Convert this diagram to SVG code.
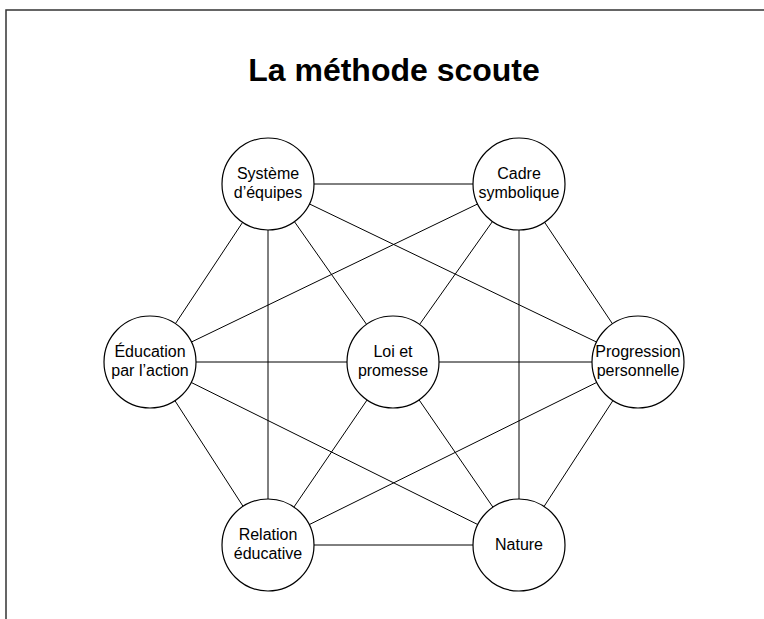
<svg xmlns="http://www.w3.org/2000/svg" width="764" height="619" viewBox="0 0 764 619">
<style>
.frame{fill:none;stroke:#333;stroke-width:1.5}
.edge{stroke:#000;stroke-width:1;fill:none}
.node circle{fill:#fff;stroke:#000;stroke-width:1.2}
.node text{font-family:"Liberation Sans",Arial,sans-serif;font-size:16px;text-anchor:middle;fill:#000}
.title{font-family:"Liberation Sans",Arial,sans-serif;font-size:32px;font-weight:bold;text-anchor:middle;fill:#000}
</style>
<rect width="764" height="619" fill="#fff"/>
<rect class="frame" x="6" y="10" width="800" height="700"/>
<text class="title" x="394" y="81">La méthode scoute</text>
<g id="connectors" class="edge">
<line x1="268" y1="184" x2="519" y2="184"/>
<line x1="268" y1="184" x2="150" y2="362"/>
<line x1="268" y1="184" x2="268" y2="545"/>
<line x1="268" y1="184" x2="393" y2="362"/>
<line x1="268" y1="184" x2="638" y2="362"/>
<line x1="519" y1="184" x2="150" y2="362"/>
<line x1="519" y1="184" x2="393" y2="362"/>
<line x1="519" y1="184" x2="519" y2="545"/>
<line x1="519" y1="184" x2="638" y2="362"/>
<line x1="150" y1="362" x2="393" y2="362"/>
<line x1="393" y1="362" x2="638" y2="362"/>
<line x1="150" y1="362" x2="519" y2="545"/>
<line x1="150" y1="362" x2="268" y2="545"/>
<line x1="393" y1="362" x2="268" y2="545"/>
<line x1="393" y1="362" x2="519" y2="545"/>
<line x1="638" y1="362" x2="268" y2="545"/>
<line x1="638" y1="362" x2="519" y2="545"/>
<line x1="268" y1="545" x2="519" y2="545"/>
</g>
<g id="systeme" class="node"><circle cx="268" cy="184" r="46"/><text x="268" y="179">Système</text><text x="268" y="198">d’équipes</text></g>
<g id="cadre" class="node"><circle cx="519" cy="184" r="46"/><text x="519" y="179">Cadre</text><text x="519" y="198">symbolique</text></g>
<g id="education" class="node"><circle cx="150" cy="362" r="46"/><text x="150" y="357">Éducation</text><text x="150" y="376">par l’action</text></g>
<g id="loi" class="node"><circle cx="393" cy="362" r="46"/><text x="393" y="357">Loi et</text><text x="393" y="376">promesse</text></g>
<g id="progression" class="node"><circle cx="638" cy="362" r="46"/><text x="638" y="357">Progression</text><text x="638" y="376">personnelle</text></g>
<g id="relation" class="node"><circle cx="268" cy="545" r="46"/><text x="268" y="540">Relation</text><text x="268" y="559">éducative</text></g>
<g id="nature" class="node"><circle cx="519" cy="545" r="46"/><text x="519" y="550">Nature</text></g>
</svg>
